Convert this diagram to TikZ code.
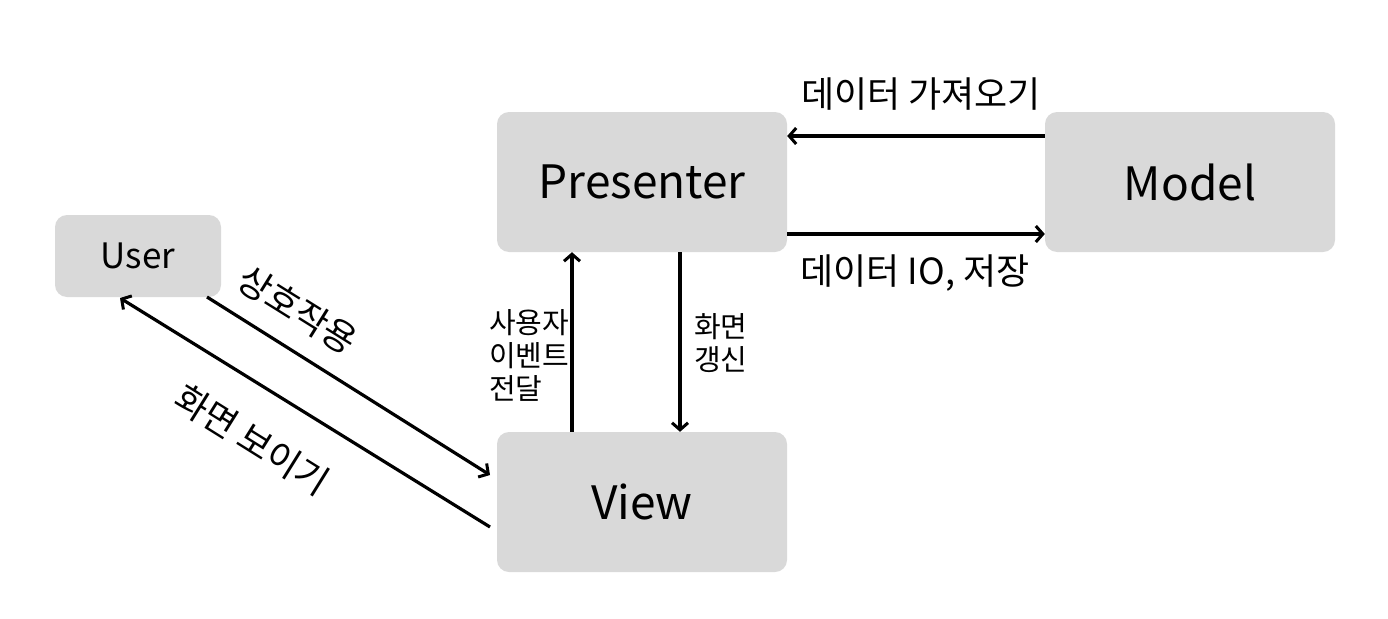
\documentclass[tikz,border=0pt]{standalone}
\usepackage{fontspec}
\setmainfont{Noto Sans CJK KR}
\usetikzlibrary{arrows.meta}
\begin{document}
\begin{tikzpicture}[x=1pt,y=-1pt,
  box/.style={draw=none,fill=black!15,rounded corners=12pt,inner sep=0pt},
  conn/.style={line width=3.2pt,-{Straight Barb[length=7pt,width=16pt,line width=3pt]}},
  lbl/.style={font=\fontsize{36}{42}\selectfont,inner sep=0pt},
  slbl/.style={font=\fontsize{29}{33}\selectfont,inner sep=0pt,align=left}]
\useasboundingbox (0,0) rectangle (1388,618);
\node[box,minimum width=166pt,minimum height=82pt,font=\fontsize{35}{40}\selectfont] (user) at (138,256) {User};
\node[box,minimum width=290pt,minimum height=140pt,font=\fontsize{46}{52}\selectfont] (pres) at (642,182) {Presenter};
\node[box,minimum width=290pt,minimum height=140pt,font=\fontsize{46}{52}\selectfont] (model) at (1190,182) {Model};
\node[box,minimum width=290pt,minimum height=140pt,font=\fontsize{46}{52}\selectfont] (view) at (642,502) {View};
% horizontal
\draw[conn] (model.west |- 0,136) -- (pres.east |- 0,136);
\draw[conn] (pres.east |- 0,234) -- (model.west |- 0,234);
\node[lbl] (l1) at (921,94) {데이터 가져오기};
\node[lbl] (l2) at (915,273) {데이터 IO, 저장};
% vertical
\draw[conn] (view.north -| 572,0) -- (pres.south -| 572,0);
\draw[conn] (pres.south -| 680,0) -- (view.north -| 680,0);
\node[slbl,anchor=west] (l3) at (489,355) {사용자\\이벤트\\전달};
\node[slbl,anchor=west] (l4) at (694,343) {화면\\갱신};
% diagonal
\coordinate (ua) at (207,297);
\coordinate (va) at (490,475);
\coordinate (vb) at (490,527);
\coordinate (ub) at (120,298);
\draw[conn] (ua) -- (va);
\draw[conn] (vb) -- (ub);
\node[lbl,rotate=-32] (l5) at (298,310) {상호작용};
\node[lbl,rotate=-32] (l6) at (252,440) {화면 보이기};
\end{tikzpicture}
\end{document}
